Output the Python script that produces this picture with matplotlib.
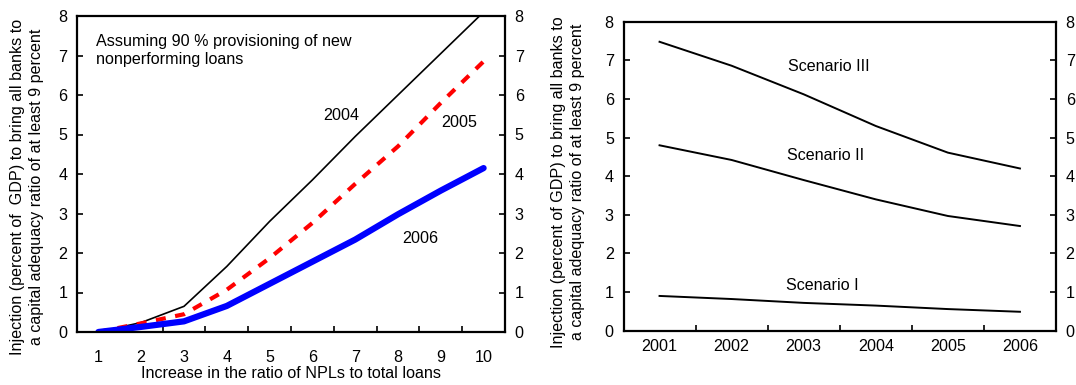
import numpy as np
import matplotlib
matplotlib.use('Agg')
import matplotlib.pyplot as plt

plt.rcParams['font.family'] = ['Liberation Sans', 'DejaVu Sans']
plt.rcParams['font.size'] = 11.6

# left panel: increase in NPL ratio
npl = np.arange(1, 11)
y2004 = [0, 0.24, 0.65, 1.66, 2.8, 3.85, 4.95, 6.0, 7.05, 8.1]
y2005 = [0, 0.22, 0.45, 1.07, 1.87, 2.76, 3.75, 4.7, 5.8, 6.85]
y2006 = [0, 0.13, 0.27, 0.66, 1.22, 1.78, 2.34, 2.98, 3.58, 4.15]

# right panel: scenarios by year
years = ['2001', '2002', '2003', '2004', '2005', '2006']
scen3 = [7.48, 6.86, 6.12, 5.3, 4.61, 4.2]
scen2 = [4.8, 4.42, 3.9, 3.4, 2.97, 2.71]
scen1 = [0.9, 0.82, 0.72, 0.65, 0.56, 0.49]

W, H = 1076, 385
fig = plt.figure(figsize=(W / 100, H / 100), dpi=100)

def box(l, t, r, b):
    return [l / W, (H - b) / H, (r - l) / W, (b - t) / H]

def style(ax):
    for s in ax.spines.values():
        s.set_linewidth(1.6)
    ax.set_ylim(0, 8)
    ax.set_yticks(range(0, 9))
    ax.tick_params(axis='y', direction='in', length=4, width=1.2,
                   right=True, labelright=True, pad=7)
    ax.tick_params(axis='x', which='minor', direction='in', length=4.5, width=1.2)
    ax.tick_params(axis='x', which='major', length=0)

# ---- left
ax1 = fig.add_axes(box(77, 16, 505, 332))
ax1.plot(npl, y2004, color='black', lw=1.2)
ax1.plot(npl, y2005, color='#ff0000', lw=3, dashes=(2.4, 2.3))
ax1.plot(npl, y2006, color='#0000ff', lw=4.5, solid_capstyle='round')
ax1.set_xlim(0.5, 10.5)
ax1.set_xticks(npl)
ax1.set_xticks(np.arange(1.5, 10, 1), minor=True)
style(ax1)
ax1.tick_params(axis='x', which='major', pad=13)
ax1.set_xlabel('Increase in the ratio of NPLs to total loans', labelpad=1)
ax1.text(6.67, 5.48, '2004', ha='center', va='center')
ax1.text(9.44, 5.3, '2005', ha='center', va='center')
ax1.text(8.52, 2.36, '2006', ha='center', va='center')
ax1.text(0.94, 7.13, 'Assuming 90 % provisioning of new\nnonperforming loans',
         ha='left', va='center', linespacing=1.27)
fig.text(27 / W, (H - 187) / H,
         'Injection (percent of  GDP) to bring all banks to\na capital adequacy ratio of at least 9 percent',
         rotation=90, ha='center', va='center', linespacing=1.33)

# ---- right
ax2 = fig.add_axes(box(623.5, 21.7, 1056, 330.7))
xs = np.arange(len(years))
for ys in (scen3, scen2, scen1):
    ax2.plot(xs, ys, color='black', lw=1.4)
ax2.set_xlim(-0.5, 5.5)
ax2.set_xticks(xs)
ax2.set_xticklabels(years)
ax2.set_xticks(np.arange(0.5, 5, 1), minor=True)
style(ax2)
ax2.tick_params(axis='x', which='major', pad=6)
ax2.text(2.35, 6.84, 'Scenario III', ha='center', va='center')
ax2.text(2.30, 4.53, 'Scenario II', ha='center', va='center')
ax2.text(2.26, 1.18, 'Scenario I', ha='center', va='center')
fig.text(568 / W, (H - 182) / H,
         'Injection (percent of GDP) to bring all banks to\na capital adequacy ratio of at least 9 percent',
         rotation=90, ha='center', va='center', linespacing=1.33)

fig.savefig('out.png', dpi=100)
